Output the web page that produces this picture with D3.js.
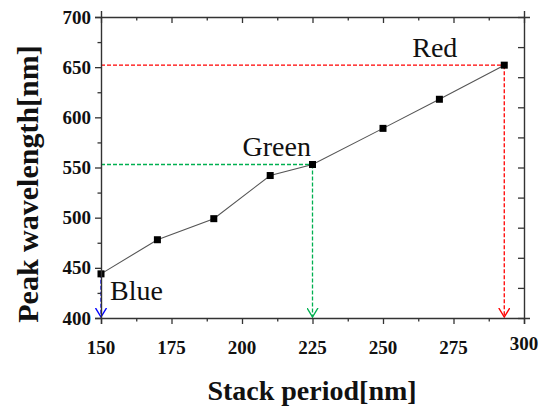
<!DOCTYPE html>
<html><head><meta charset="utf-8">
<script src="https://cdn.jsdelivr.net/npm/d3@7"></script>
<style>body{margin:0;background:#fff}svg{display:block}</style>
</head><body>
<svg id="c" width="547" height="409"></svg>
<script>
const periods = [150, 170, 190, 210, 225, 250, 270, 293];
const peaks = [444, 478, 499, 542, 553, 589, 618, 652];
const xTicks = [150, 175, 200, 225, 250, 275, 300];
const yTicks = [400, 450, 500, 550, 600, 650, 700];
const markIdx = [0, 4, 7];           // Blue, Green, Red points
const markNames = ["Blue", "Green", "Red"];
const markColors = ["#0000ff", "#00b050", "#ff0000"];
const xTitle = "Stack period[nm]";
const yTitle = "Peak wavelength[nm]";

(function () {
const svg = d3.select("#c");
const L = 101, R = 524, T = 17, B = 318;
const x = d3.scaleLinear().domain([150, 300]).range([L, R]);
const y = d3.scaleLinear().domain([400, 700]).range([B, T]);
const axisColor = "#333";
const tickFont = "'Liberation Serif', 'Times New Roman', serif";

// defs: arrowheads
const defs = svg.append("defs");
markColors.forEach((c, i) => {
  defs.append("marker").attr("id", "ar" + i)
    .attr("viewBox", "0 0 12 10").attr("refX", 6).attr("refY", 9.5)
    .attr("markerWidth", 12).attr("markerHeight", 10).attr("markerUnits", "userSpaceOnUse")
    .attr("orient", "0")
    .append("path").attr("d", "M0.5,0.5 L6,9.5 L11.5,0.5")
    .attr("fill", "none").attr("stroke", c).attr("stroke-width", 1.4);
});

// dashed guide lines
markIdx.forEach((idx, i) => {
  const px = x(periods[idx]), py = y(peaks[idx]);
  if (i > 0) {
    svg.append("line").attr("x1", L).attr("x2", px).attr("y1", py).attr("y2", py)
      .attr("stroke", markColors[i]).attr("stroke-width", 1.3).attr("stroke-dasharray", "4,2");
  }
  svg.append("line").attr("x1", px).attr("x2", px).attr("y1", py).attr("y2", B - 1)
    .attr("stroke", markColors[i]).attr("stroke-width", 1.3).attr("stroke-dasharray", "4,2")
    .attr("marker-end", "url(#ar" + i + ")");
});

// data line
const pts = periods.map((p, i) => [p, peaks[i]]);
svg.append("path").datum(pts)
  .attr("d", d3.line().x(d => x(d[0])).y(d => y(d[1])))
  .attr("fill", "none").attr("stroke", "#555").attr("stroke-width", 1.1);
svg.selectAll("rect.pt").data(pts).enter().append("rect").attr("class", "pt")
  .attr("x", d => x(d[0]) - 3.5).attr("y", d => y(d[1]) - 3.5)
  .attr("width", 7).attr("height", 7).attr("fill", "#000");

// axes
const minorX = d3.range(150, 300.1, 12.5);
const minorY = d3.range(400, 700.1, 25);
const gBottom = svg.append("g").attr("transform", `translate(0,${B})`)
  .call(d3.axisBottom(x).tickValues(minorX).tickFormat(""));
gBottom.selectAll(".tick line").attr("y2", d => (d % 25 === 0 ? 6 : 3.5));
const gTop = svg.append("g").attr("transform", `translate(0,${T})`)
  .call(d3.axisTop(x).tickValues(minorX).tickFormat(""));
gTop.selectAll(".tick line").attr("y2", d => (d % 25 === 0 ? 6 : 3.5));
const gLeft = svg.append("g").attr("transform", `translate(${L},0)`)
  .call(d3.axisLeft(y).tickValues(minorY).tickFormat(""));
gLeft.selectAll(".tick line").attr("x2", d => (d % 50 === 0 ? -6 : -3.5));
const gRight = svg.append("g").attr("transform", `translate(${R},0)`)
  .call(d3.axisRight(y).tickValues(d3.range(400, 700.1, 30)).tickFormat(""));
gRight.selectAll(".tick line").attr("x2", -6);
[gBottom, gTop, gLeft, gRight].forEach(g => {
  g.selectAll(".domain").attr("stroke", axisColor).attr("stroke-width", 1.4);
  g.selectAll(".tick line").attr("stroke", axisColor).attr("stroke-width", 1.3);
});

// tick labels
svg.append("g").selectAll("text").data(xTicks).enter().append("text")
  .attr("x", d => x(d)).attr("y", d => d === 300 ? 350 : 354)
  .attr("text-anchor", "middle").attr("font-family", tickFont)
  .attr("font-weight", "bold").attr("font-size", 19).attr("fill", "#111").text(d => d);
svg.append("g").selectAll("text").data(yTicks).enter().append("text")
  .attr("x", L - 10).attr("y", d => y(d) + 6.5)
  .attr("text-anchor", "end").attr("font-family", tickFont)
  .attr("font-weight", "bold").attr("font-size", 19).attr("fill", "#111").text(d => d);

// titles
svg.append("text").attr("x", 312).attr("y", 400).attr("text-anchor", "middle")
  .attr("font-family", tickFont).attr("font-weight", "bold").attr("font-size", 28)
  .attr("fill", "#111").text(xTitle);
svg.append("text").attr("transform", "translate(38,184) rotate(-90)").attr("text-anchor", "middle")
  .attr("font-family", tickFont).attr("font-weight", "bold").attr("font-size", 30)
  .attr("fill", "#111").text(yTitle);

// annotation labels
const labelOff = [[9, 26], [-70, -8], [-92, -8]];
markIdx.forEach((idx, i) => {
  svg.append("text").attr("x", x(periods[idx]) + labelOff[i][0])
    .attr("y", y(peaks[idx]) + labelOff[i][1])
    .attr("font-family", tickFont).attr("font-size", 28).attr("fill", "#111")
    .text(markNames[i]);
});
})();
</script>
</body></html>
